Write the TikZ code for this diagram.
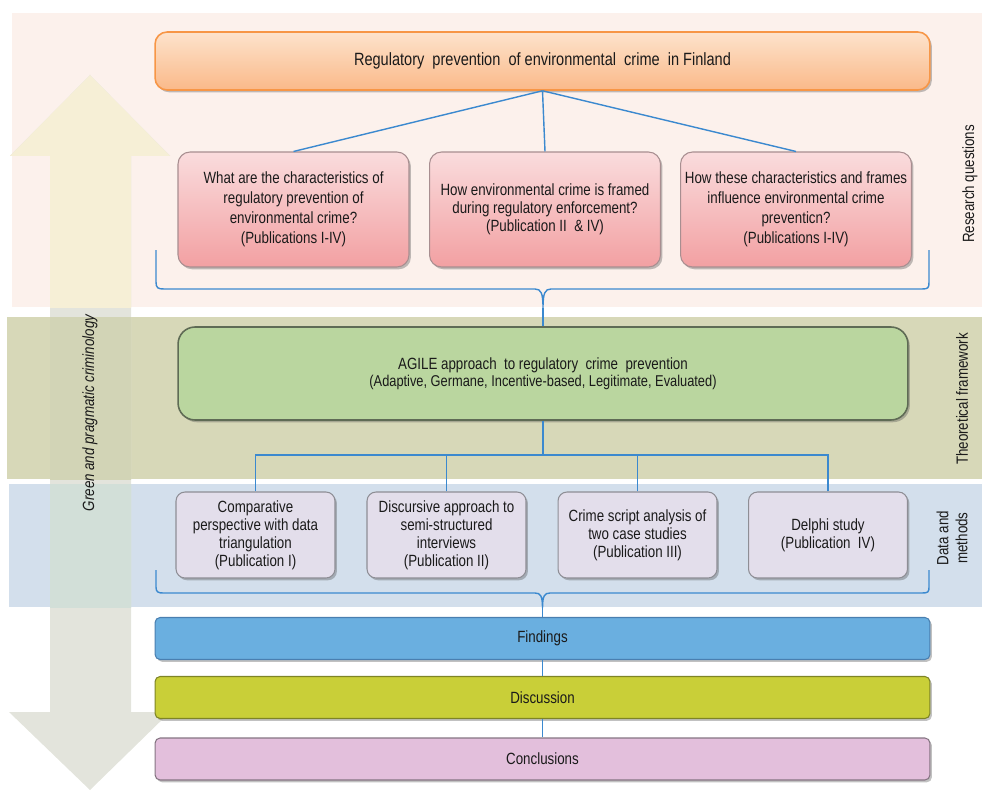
\documentclass[tikz,border=0pt]{standalone}
\usepackage{fontspec}
\setmainfont[FakeStretch=0.82]{Liberation Sans}
\usetikzlibrary{shadows}

\definecolor{bandpink}{HTML}{FCF1EC}
\definecolor{bandgreen}{HTML}{D7D8B8}
\definecolor{bandblue}{HTML}{D3DFEC}
\definecolor{arrowgray}{HTML}{E3E4DC}
\definecolor{arrowyellow}{HTML}{F6EFD6}
\definecolor{arrowolive}{HTML}{D2D4B6}
\definecolor{arrowblue}{HTML}{D2DFD8}
\definecolor{lineblue}{HTML}{3B89CF}
\definecolor{txt}{HTML}{1A1A1A}
\definecolor{titletop}{HTML}{FDE3CC}
\definecolor{titlebot}{HTML}{FAB989}
\definecolor{titleline}{HTML}{F79646}
\definecolor{rqtop}{HTML}{FADCDD}
\definecolor{rqbot}{HTML}{F2A0A2}
\definecolor{rqline}{HTML}{A88E90}
\definecolor{agilefill}{HTML}{BAD69F}
\definecolor{agileline}{HTML}{5F6B55}
\definecolor{mfill}{HTML}{E3DEEB}
\definecolor{mline}{HTML}{8E8E95}
\definecolor{findfill}{HTML}{6AAFE0}
\definecolor{findline}{HTML}{4A7FB0}
\definecolor{discfill}{HTML}{C9CF38}
\definecolor{discline}{HTML}{7E8426}
\definecolor{concfill}{HTML}{E3BFDC}
\definecolor{concline}{HTML}{857582}

\begin{document}
\begin{tikzpicture}[x=0.02cm,y=-0.02cm,
  conn/.style={draw=lineblue, line width=0.8pt},
  bx/.style={align=center, inner sep=0pt, text=txt, font=\fontsize{9.25}{11.3}\selectfont},
  shadowed/.style={drop shadow={shadow xshift=1.1pt, shadow yshift=-1.3pt, opacity=0.35, fill=black!70}},
  titlebox/.style={bx, shadowed, draw=titleline, line width=0.9pt, top color=titletop, bottom color=titlebot,
    rounded corners=0.24cm, minimum width=15.5cm, minimum height=1.16cm, font=\fontsize{10.1}{12}\selectfont},
  rqbox/.style={bx, shadowed, draw=rqline, line width=0.6pt, top color=rqtop, bottom color=rqbot,
    rounded corners=0.24cm, minimum width=4.62cm, minimum height=2.3cm},
  agilebox/.style={bx, shadowed, draw=agileline, line width=0.9pt, fill=agilefill,
    rounded corners=0.34cm, minimum width=14.6cm, minimum height=1.86cm, font=\fontsize{9.25}{9.6}\selectfont},
  mbox/.style={bx, shadowed, draw=mline, line width=0.6pt, fill=mfill,
    rounded corners=0.18cm, minimum width=3.18cm, minimum height=1.72cm, font=\fontsize{9.25}{10.2}\selectfont},
  stagebox/.style={bx, shadowed, line width=0.6pt, rounded corners=0.1cm, minimum width=15.5cm, minimum height=0.84cm},
  sidelabel/.style={rotate=90, align=center, inner sep=0pt, text=txt, font=\fontsize{9.25}{10.8}\selectfont}
]
\useasboundingbox (0,0) rectangle (982,790);

% background bands
\fill[bandpink] (12,13) rectangle (982,307);
\fill[bandgreen] (7,317) rectangle (982,479);
\fill[bandblue] (9,484) rectangle (982,607);

% double-headed arrow on the left
\fill[arrowgray] (90,75) -- (170,156) -- (131,156) -- (131,712) -- (170,712) -- (90,790)
  -- (9,712) -- (50,712) -- (50,156) -- (10,156) -- cycle;
\begin{scope}
  \clip (0,0) rectangle (982,307);
  \fill[arrowyellow] (90,75) -- (170,156) -- (131,156) -- (131,712) -- (170,712) -- (90,790)
    -- (9,712) -- (50,712) -- (50,156) -- (10,156) -- cycle;
\end{scope}
\begin{scope}
  \clip (7,317) rectangle (982,479);
  \fill[arrowolive] (90,75) -- (170,156) -- (131,156) -- (131,712) -- (170,712) -- (90,790)
    -- (9,712) -- (50,712) -- (50,156) -- (10,156) -- cycle;
\end{scope}
\begin{scope}
  \clip (9,484) rectangle (982,607);
  \fill[arrowblue] (90,75) -- (170,156) -- (131,156) -- (131,712) -- (170,712) -- (90,790)
    -- (9,712) -- (50,712) -- (50,156) -- (10,156) -- cycle;
\end{scope}

% research questions
\node[titlebox] (title) at (542.5,61) {Regulatory\ \ prevention\ \ of environmental\ \ crime\ \ in Finland};
\node[rqbox] (rq1) at (293.5,209.5) {What are the characteristics of\\regulatory prevention of\\environmental crime?\\(Publications I-IV)};
\node[rqbox, font=\fontsize{9.25}{10.2}\selectfont] (rq2) at (545,209.5) {How environmental crime is framed\\during regulatory enforcement?\\(Publication II\ \ \& IV)};
\node[rqbox] (rq3) at (796,209.5) {How these characteristics and frames\\influence environmental crime\\preventicn?\\(Publications I-IV)};

\draw[conn] (title.south) -- (rq1.north);
\draw[conn] (title.south) -- (rq2.north);
\draw[conn] (title.south) -- (rq3.north);

% theoretical framework
\node[agilebox] (agile) at (543,373.5) {AGILE approach\ \ to regulatory\ \ crime\ \ prevention\\{\fontsize{8.9}{9.6}\selectfont (Adaptive, Germane, Incentive-based, Legitimate, Evaluated)}};

\coordinate (rqtip) at (543,308);
\draw[conn] (156,250) -- (156,282) .. controls (156,288) and (158,289) .. (164,289) -- (535,289)
  .. controls (541,289) and (543,293) .. (rqtip) .. controls (543,293) and (545,289) .. (551,289)
  -- (922,289) .. controls (928,289) and (929,288) .. (929,282) -- (929,250);
\draw[conn] (rqtip) -- (agile.north);

% data and methods
\node[mbox] (m1) at (255.5,535) {Comparative\\perspective with data\\triangulation\\(Publication I)};
\node[mbox] (m2) at (446.5,535) {Discursive approach to\\semi-structured\\interviews\\(Publication II)};
\node[mbox] (m3) at (637.5,535) {Crime script analysis of\\two case studies\\(Publication III)};
\node[mbox] (m4) at (828,535) {Delphi study\\(Publication\ \ IV)};

\coordinate (bus) at (543,455);
\draw[conn] (agile.south) -- (bus);
\draw[conn] (m1.north) |- (bus);
\draw[conn] (m2.north) |- (bus);
\draw[conn] (m3.north) |- (bus);
\draw[conn] (m4.north) |- (bus);

% results stages
\node[stagebox, fill=findfill, draw=findline] (find) at (542.5,638.5) {Findings};
\node[stagebox, fill=discfill, draw=discline] (disc) at (542.5,697.5) {Discussion};
\node[stagebox, fill=concfill, draw=concline] (conc) at (542.5,759) {Conclusions};

\coordinate (mtip) at (542.5,608);
\draw[conn] (156,570) -- (156,587) .. controls (156,592) and (158,593) .. (163,593) -- (535,593)
  .. controls (540.5,593) and (542.5,596) .. (mtip) .. controls (542.5,596) and (544.5,593) .. (550,593)
  -- (922,593) .. controls (928,593) and (929,592) .. (929,587) -- (929,570);
\draw[conn] (mtip) -- (find.north);
\draw[conn] (find.south) -- (disc.north);
\draw[conn] (disc.south) -- (conc.north);

% side labels
\node[sidelabel] (lrq) at (970,184) {Research questions};
\node[sidelabel] (ltf) at (962,399) {Theoretical framework};
\node[sidelabel] (ldm) at (952,538) {Data and\\methods};
\node[sidelabel, font=\fontsize{9.25}{10.8}\selectfont\itshape] (lgp) at (90,413) {Green and pragmatic criminology};
\end{tikzpicture}
\end{document}
